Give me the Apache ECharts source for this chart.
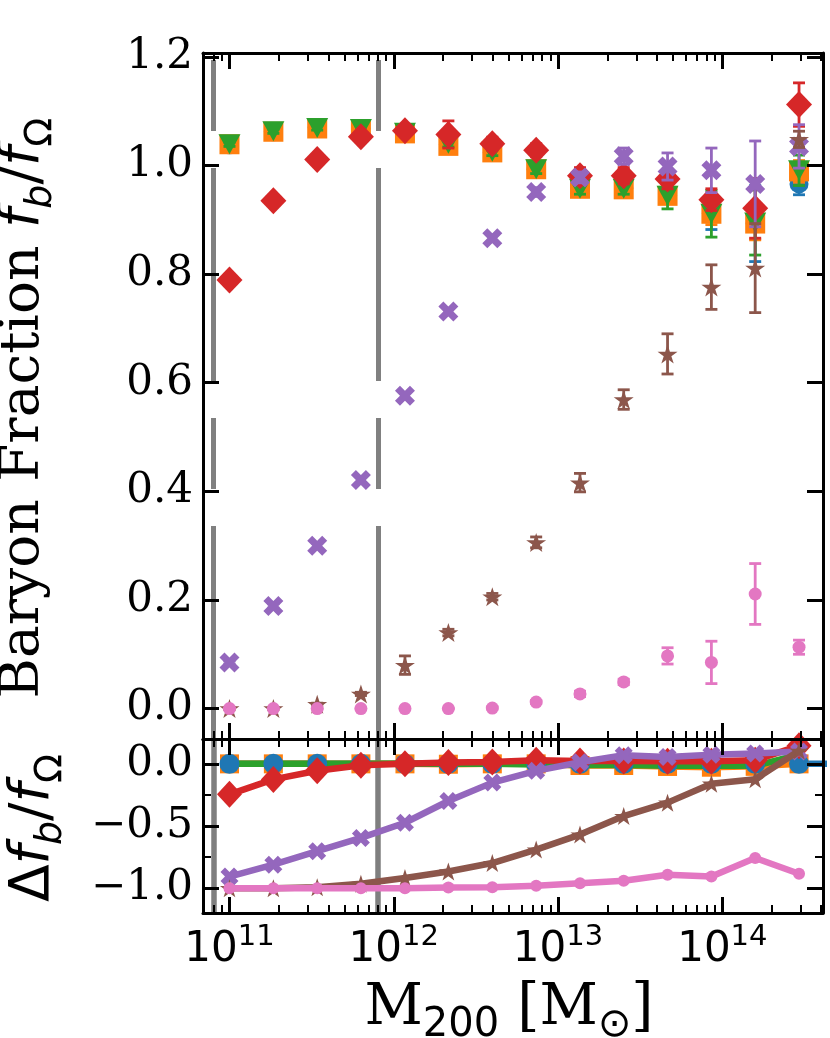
<!DOCTYPE html>
<html><head><meta charset="utf-8">
<script src="https://cdn.jsdelivr.net/npm/echarts@6/dist/echarts.min.js"></script>
<style>html,body{margin:0;padding:0;background:#fff}#c{width:830px;height:1038px}</style>
</head><body><div id="c"></div>
<script>
// ---------- data ----------
const massBins = [1.0e11, 1.85e11, 3.42e11, 6.31e11, 1.17e12, 2.15e12, 3.98e12, 7.36e12, 1.36e13, 2.51e13, 4.64e13, 8.58e13, 1.585e14, 2.93e14];
const massBinsRef = [1.0e11, 1.85e11, 3.42e11, 6.31e11, 1.17e12, 2.15e12, 3.98e12, 7.36e12, 1.36e13, 2.51e13, 4.64e13, 8.58e13, 1.585e14, 2.93e14, 5.41e14];

// top panel: baryon fraction f_b/f_Omega and error
const blueFb    = [1.038, 1.062, 1.070, 1.068, 1.060, 1.038, 1.024, 0.993, 0.958, 0.958, 0.945, 0.912, 0.893, 0.966];
const blueErr   = [0.005, 0.005, 0.005, 0.005, 0.005, 0.008, 0.008, 0.010, 0.012, 0.012, 0.015, 0.030, 0.070, 0.020];
const orangeFb  = [1.039, 1.062, 1.068, 1.066, 1.059, 1.036, 1.024, 0.993, 0.957, 0.956, 0.944, 0.911, 0.893, 0.989];
const orangeErr = [0.004, 0.004, 0.004, 0.004, 0.005, 0.006, 0.007, 0.008, 0.010, 0.010, 0.012, 0.020, 0.030, 0.020];
const greenFb   = [1.039, 1.063, 1.069, 1.067, 1.060, 1.040, 1.025, 0.993, 0.957, 0.957, 0.944, 0.911, 0.895, 0.991];
const greenErr  = [0.004, 0.004, 0.004, 0.004, 0.005, 0.006, 0.007, 0.008, 0.010, 0.010, 0.024, 0.043, 0.060, 0.028];
const redFb     = [0.789, 0.935, 1.011, 1.053, 1.064, 1.057, 1.040, 1.028, 0.981, 0.981, 0.975, 0.937, 0.921, 1.112];
const redErr    = [0.004, 0.005, 0.006, 0.007, 0.010, 0.025, 0.012, 0.012, 0.015, 0.015, 0.018, 0.020, 0.055, 0.040];
const purpleFb  = [0.085, 0.189, 0.300, 0.421, 0.576, 0.731, 0.866, 0.951, 0.978, 1.017, 0.998, 0.991, 0.966, 1.035];
const purpleErr = [0.003, 0.004, 0.005, 0.006, 0.006, 0.006, 0.006, 0.008, 0.010, 0.015, 0.025, 0.041, 0.079, 0.040];
const brownFb   = [0.000, 0.000, 0.008, 0.027, 0.080, 0.140, 0.206, 0.306, 0.416, 0.569, 0.653, 0.776, 0.811, 1.048];
const brownErr  = [0.002, 0.002, 0.002, 0.003, 0.017, 0.006, 0.006, 0.010, 0.017, 0.018, 0.037, 0.041, 0.082, 0.015];
const pinkFb    = [0.000, 0.000, 0.000, 0.000, 0.000, 0.000, 0.001, 0.012, 0.027, 0.049, 0.097, 0.085, 0.211, 0.113];
const pinkErr   = [0.000, 0.000, 0.000, 0.000, 0.000, 0.000, 0.002, 0.003, 0.005, 0.005, 0.015, 0.039, 0.056, 0.013];

// bottom panel: relative difference
const blueDelta   = [0, 0, 0, 0, 0, 0, 0, 0, 0, 0, 0, 0, 0, 0, 0];
const orangeDelta = [0, 0, 0, 0, 0, -0.003, 0, 0, -0.013, -0.013, -0.021, -0.027, -0.020, 0.000];
const greenDelta  = [0, 0, 0, 0, 0, 0, 0, -0.005, -0.010, -0.010, -0.015, -0.016, -0.016, 0.075];
const redDelta    = [-0.245, -0.125, -0.055, -0.012, 0.000, 0.010, 0.015, 0.030, 0.022, 0.022, 0.020, 0.020, 0.030, 0.145];
const purpleDelta = [-0.907, -0.811, -0.703, -0.596, -0.474, -0.299, -0.151, -0.056, 0.013, 0.070, 0.055, 0.073, 0.084, 0.100];
const brownDelta  = [-1.000, -1.000, -0.992, -0.965, -0.919, -0.866, -0.798, -0.690, -0.569, -0.420, -0.312, -0.160, -0.124, 0.105];
const pinkDelta   = [-1.000, -1.000, -1.000, -1.000, -1.000, -0.995, -0.992, -0.980, -0.960, -0.940, -0.893, -0.907, -0.757, -0.884];

// reference vertical lines
const greyLineMasses = [8e10, 8e11];

// ticks
const xMajorTicks = [1e11, 1e12, 1e13, 1e14];
const topYTicks = [0.0, 0.2, 0.4, 0.6, 0.8, 1.0, 1.2];
const bottomYTicks = [-1.0, -0.5, 0.0];
const bottomYMinorTicks = [-0.75, -0.25];

// ---------- styling ----------
const xMin = 6.9e10, xMax = 4.1e14;
const C = {blue:'#1f77b4', orange:'#ff7f0e', green:'#2ca02c', red:'#d62728', purple:'#9467bd', brown:'#8c564b', pink:'#e377c2'};
const X_PATH = 'path://M2.5,0L5,2.5L7.5,0L10,2.5L7.5,5L10,7.5L7.5,10L5,7.5L2.5,10L0,7.5L2.5,5L0,2.5Z';
const STAR_PATH = 'path://M100,0L122.45,69.1L195.11,69.1L136.33,111.8L158.78,180.9L100,138.2L41.22,180.9L63.67,111.8L4.89,69.1L77.55,69.1Z';

const xMinorTicks = [];
for (let d = 10; d <= 14; d++) for (let k = 2; k <= 9; k++) {
  const v = k * Math.pow(10, d);
  if (v > xMin && v < xMax) xMinorTicks.push(v);
}

function xAx(grid, pos, ticks, major, withLabels) {
  return {
    type: 'log', logBase: 10, gridIndex: grid, position: pos, min: xMin, max: xMax, z: 50,
    axisLine: {show: major, onZero: false, lineStyle: {color: '#000', width: 3}},
    axisTick: {show: true, inside: true, length: major ? 16 : 8, customValues: ticks,
               lineStyle: {color: '#000', width: major ? 3 : 2}},
    axisLabel: withLabels ? {
      show: true, customValues: xMajorTicks, margin: 10,
      formatter: v => '{b|10}{s|' + Math.round(Math.log10(v)) + '}',
      rich: {
        b: {fontFamily: 'DejaVu Sans', fontSize: 42, color: '#000', lineHeight: 48, verticalAlign: 'bottom'},
        s: {fontFamily: 'DejaVu Sans', fontSize: 29, color: '#000', lineHeight: 26, verticalAlign: 'top'}
      }
    } : {show: false},
    splitLine: {show: false}, minorTick: {show: false}, minorSplitLine: {show: false}
  };
}
function yAx(grid, pos, min, max, ticks, major, withLabels) {
  return {
    type: 'value', gridIndex: grid, position: pos, min: min, max: max, z: 50,
    axisLine: {show: major, onZero: false, lineStyle: {color: '#000', width: 3}},
    axisTick: {show: true, inside: true, length: major ? 16 : 8, customValues: ticks,
               lineStyle: {color: '#000', width: major ? 3 : 2}},
    axisLabel: withLabels ? {
      show: true, customValues: ticks, margin: 10,
      fontFamily: 'DejaVu Serif', fontSize: 42, color: '#000',
      formatter: v => (v < -1e-9 ? '\u2212' : '') + Math.abs(v).toFixed(1)
    } : {show: false},
    splitLine: {show: false}, minorTick: {show: false}, minorSplitLine: {show: false}
  };
}

const xAxis = [
  xAx(0, 'bottom', xMajorTicks, true, false),   // 0
  xAx(0, 'bottom', xMinorTicks, false, false),  // 1
  xAx(0, 'top', xMajorTicks, true, false),      // 2
  xAx(0, 'top', xMinorTicks, false, false),     // 3
  xAx(1, 'bottom', xMajorTicks, true, true),    // 4
  xAx(1, 'bottom', xMinorTicks, false, false),  // 5
  xAx(1, 'top', xMajorTicks, true, false),      // 6
  xAx(1, 'top', xMinorTicks, false, false)      // 7
];
const yAxis = [
  yAx(0, 'left', -0.056, 1.207, topYTicks, true, true),     // 0
  yAx(0, 'right', -0.056, 1.207, topYTicks, true, false),   // 1
  yAx(1, 'left', -1.2, 0.2, bottomYTicks, true, true),      // 2
  yAx(1, 'left', -1.2, 0.2, bottomYMinorTicks, false, false),  // 3
  yAx(1, 'right', -1.2, 0.2, bottomYTicks, true, false),    // 4
  yAx(1, 'right', -1.2, 0.2, bottomYMinorTicks, false, false)  // 5
];

const series = [];
let zc = 2;
function addTop(vals, errs, color, symbol, size, rotate) {
  series.push({
    type: 'custom', xAxisIndex: 0, yAxisIndex: 0, z: zc++, silent: true, animation: false,
    data: massBins.map((m, i) => [m, vals[i], errs[i]]),
    encode: {x: 0, y: 1},
    renderItem: (params, api) => {
      const x = api.value(0), y = api.value(1), e = api.value(2);
      const lo = api.coord([x, y - e]), hi = api.coord([x, y + e]);
      const cw = 6, st = {stroke: color, lineWidth: 2.8};
      return {type: 'group', children: [
        {type: 'line', shape: {x1: lo[0], y1: lo[1], x2: hi[0], y2: hi[1]}, style: st},
        {type: 'line', shape: {x1: lo[0] - cw, y1: lo[1], x2: lo[0] + cw, y2: lo[1]}, style: st},
        {type: 'line', shape: {x1: hi[0] - cw, y1: hi[1], x2: hi[0] + cw, y2: hi[1]}, style: st}
      ]};
    }
  });
  series.push({
    type: 'scatter', xAxisIndex: 0, yAxisIndex: 0, z: zc++, silent: true, animation: false,
    data: massBins.map((m, i) => [m, vals[i]]),
    symbol: symbol, symbolSize: size, symbolRotate: rotate || 0,
    itemStyle: {color: color, opacity: 1}, emphasis: {disabled: true}
  });
}
addTop(blueFb, blueErr, C.blue, 'circle', 19);
addTop(orangeFb, orangeErr, C.orange, 'rect', 20);
addTop(greenFb, greenErr, C.green, 'triangle', [22, 20], 180);
addTop(redFb, redErr, C.red, 'diamond', [26, 27]);
addTop(purpleFb, purpleErr, C.purple, X_PATH, 20);
addTop(brownFb, brownErr, C.brown, STAR_PATH, [20, 19]);
addTop(pinkFb, pinkErr, C.pink, 'circle', 13);

// grey reference lines, top (dashed)
series.push({
  type: 'line', xAxisIndex: 0, yAxisIndex: 0, z: 30, data: [], silent: true, animation: false,
  markLine: {
    silent: true, animation: false, symbol: ['none', 'none'], label: {show: false},
    lineStyle: {color: '#808080', width: 5, type: [213, 37, 71, 37], dashOffset: 0, opacity: 1},
    emphasis: {disabled: true},
    data: greyLineMasses.map(v => ({xAxis: v}))
  }
});

// bottom panel
function addBottomLine(xs, vals, color, symbol, size, rotate, z) {
  series.push({
    type: 'line', xAxisIndex: 4, yAxisIndex: 2, z: z, silent: true, animation: false,
    data: xs.map((m, i) => [m, vals[i]]),
    symbol: symbol, symbolSize: size, symbolRotate: rotate || 0,
    showSymbol: symbol !== 'none', showAllSymbol: true, clip: true,
    lineStyle: {color: color, width: 6.5}, itemStyle: {color: color, opacity: 1, borderWidth: 0},
    emphasis: {disabled: true}
  });
}
addBottomLine(massBinsRef, blueDelta, C.blue, 'none', 0, 0, 40);
addBottomLine(massBins, orangeDelta, C.orange, 'rect', 19, 0, 41);
addBottomLine(massBins, greenDelta, C.green, 'none', 0, 0, 42);
series.push({
  type: 'scatter', xAxisIndex: 4, yAxisIndex: 2, z: 43, silent: true, animation: false,
  data: massBins.map((m, i) => [m, blueDelta[i]]),
  symbol: 'circle', symbolSize: 20, itemStyle: {color: C.blue, opacity: 1}, emphasis: {disabled: true}
});
addBottomLine(massBins, redDelta, C.red, 'diamond', [25, 27], 0, 44);
addBottomLine(massBins, purpleDelta, C.purple, X_PATH, 18, 0, 45);
addBottomLine(massBins, brownDelta, C.brown, STAR_PATH, [19, 18], 0, 46);
addBottomLine(massBins, pinkDelta, C.pink, 'circle', 12, 0, 47);

series.push({
  type: 'line', xAxisIndex: 4, yAxisIndex: 2, z: 48, data: [], silent: true, animation: false,
  markLine: {
    silent: true, animation: false, symbol: ['none', 'none'], label: {show: false},
    lineStyle: {color: 'rgba(0,0,0,0.5)', width: 5.5, type: 'solid', opacity: 1},
    emphasis: {disabled: true},
    data: greyLineMasses.map(v => ({xAxis: v}))
  }
});

const titleRich = {
  t:  {fontFamily: 'DejaVu Serif', fontSize: 55, fill: '#000', lineHeight: 72, verticalAlign: 'middle'},
  m:  {fontFamily: 'DejaVu Sans', fontStyle: 'italic', fontSize: 55, fill: '#000', lineHeight: 72, verticalAlign: 'middle'},
  u:  {fontFamily: 'DejaVu Sans', fontSize: 55, fill: '#000', lineHeight: 72, verticalAlign: 'middle'},
  si: {fontFamily: 'DejaVu Sans', fontStyle: 'italic', fontSize: 38, fill: '#000', lineHeight: 38, verticalAlign: 'bottom'},
  su: {fontFamily: 'DejaVu Sans', fontSize: 38, fill: '#000', lineHeight: 38, verticalAlign: 'bottom'}
};
const xTitleRich = {
  t:  {fontFamily: 'DejaVu Serif', fontSize: 57, fill: '#000', lineHeight: 74, verticalAlign: 'middle'},
  su: {fontFamily: 'DejaVu Sans', fontSize: 40, fill: '#000', lineHeight: 40, verticalAlign: 'bottom'}
};

const chart = echarts.init(document.getElementById('c'), null, {renderer: 'canvas'});
chart.setOption({
  backgroundColor: '#fff',
  animation: false,
  grid: [
    {left: 203, right: 7, top: 53, height: 686, containLabel: false},
    {left: 203, right: 7, top: 739, height: 174, containLabel: false}
  ],
  xAxis: xAxis,
  yAxis: yAxis,
  series: series,
  graphic: [
    {type: 'text', x: 24, y: 408, rotation: Math.PI / 2, silent: true,
     style: {text: '{t|Baryon Fraction }{m|f}{si|b}{u|/}{m|f}{su|\u03A9}', rich: titleRich,
             align: 'center', verticalAlign: 'middle', textAlign: 'center', textVerticalAlign: 'middle', fill: '#000'}},
    {type: 'text', x: 34, y: 828, rotation: Math.PI / 2, silent: true,
     style: {text: '{u|\u0394}{m|f}{si|b}{u|/}{m|f}{su|\u03A9}', rich: titleRich,
             align: 'center', verticalAlign: 'middle', textAlign: 'center', textVerticalAlign: 'middle', fill: '#000'}},
    {type: 'text', x: 509, y: 1009, silent: true,
     style: {text: '{t|M}{su|200}{t| [M}{su|\u2299}{t|]}', rich: xTitleRich,
             align: 'center', verticalAlign: 'middle', textAlign: 'center', textVerticalAlign: 'middle', fill: '#000'}}
  ]
});
</script>
</body></html>
